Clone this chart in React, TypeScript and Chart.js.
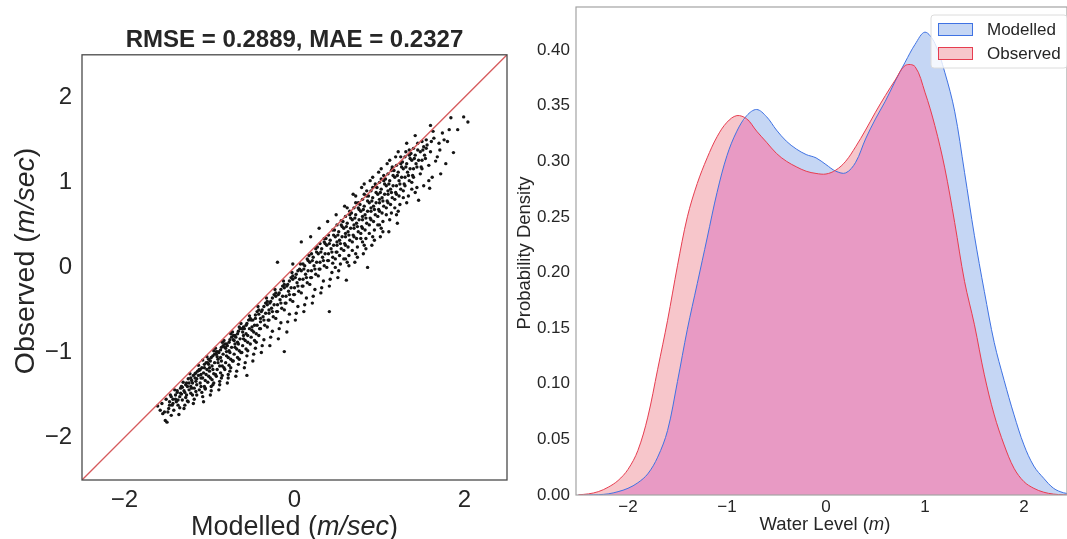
import React, { useEffect, useRef } from "react";
import { Chart, registerables } from "chart.js";

Chart.register(...registerables);

// ---------- Left panel: modelled vs observed scatter ----------
const scatterTitle = "RMSE = 0.2889, MAE = 0.2327";
const scatterTicksX = [-2, 0, 2];
const scatterTicksY = [-2, -1, 0, 1, 2];
const identityEnds = [-2.5, 2.5];
const scatterXLabel: [string, boolean][] = [["Modelled (", false], ["m/sec", true], [")", false]];
const scatterYLabel: [string, boolean][] = [["Observed (", false], ["m/sec", true], [")", false]];

// [modelled, observed] pairs
const samplePairs: [number, number][] = [
  [-1.58, -1.68], [-1.55, -1.72], [-1.61, -1.63], [-1.52, -1.8], [-1.56, -1.6],
  [-1.5, -1.82], [-1.48, -1.66], [-1.47, -1.58], [-1.45, -1.74], [-1.51, -1.55], [-1.44, -1.62], [-1.49, -1.7], [-1.46, -1.5],
  [-1.42, -1.68], [-1.4, -1.55], [-1.38, -1.47], [-1.37, -1.62], [-1.41, -1.44], [-1.36, -1.73], [-1.39, -1.58], [-1.35, -1.52], [-1.43, -1.6], [-1.34, -1.42],
  [-1.32, -1.56], [-1.3, -1.45], [-1.28, -1.38], [-1.29, -1.62], [-1.27, -1.5], [-1.31, -1.35], [-1.26, -1.57], [-1.25, -1.31], [-1.33, -1.49], [-1.24, -1.44], [-1.28, -1.53], [-1.3, -1.66],
  [-1.22, -1.48], [-1.2, -1.36], [-1.19, -1.27], [-1.18, -1.55], [-1.21, -1.42], [-1.17, -1.3], [-1.16, -1.46], [-1.23, -1.25], [-1.15, -1.38], [-1.19, -1.6], [-1.14, -1.22], [-1.2, -1.5], [-1.16, -1.34], [-1.22, -1.4],
  [-1.12, -1.44], [-1.1, -1.3], [-1.09, -1.18], [-1.08, -1.52], [-1.11, -1.36], [-1.07, -1.24], [-1.06, -1.4], [-1.13, -1.15], [-1.05, -1.33], [-1.09, -1.47], [-1.04, -1.12], [-1.1, -1.26], [-1.07, -1.58], [-1.12, -1.21], [-1.05, -1.43], [-1.08, -1.09],
  [-1.02, -1.35], [-1.0, -1.22], [-0.99, -1.1], [-0.98, -1.45], [-1.01, -1.28], [-0.97, -1.16], [-0.96, -1.38], [-1.03, -1.05], [-0.95, -1.25], [-0.99, -1.5], [-0.94, -1.02], [-1.0, -1.18], [-0.97, -1.32], [-1.02, -1.12], [-0.95, -0.98], [-0.98, -1.4],
  [-0.92, -1.28], [-0.9, -1.12], [-0.89, -1.0], [-0.88, -1.38], [-0.91, -1.2], [-0.87, -1.06], [-0.86, -1.3], [-0.93, -0.95], [-0.85, -1.16], [-0.89, -1.44], [-0.84, -0.92], [-0.9, -1.08], [-0.87, -1.24], [-0.92, -1.02], [-0.85, -0.88], [-0.88, -1.34],
  [-0.82, -1.2], [-0.8, -1.04], [-0.79, -0.92], [-0.78, -1.3], [-0.81, -1.12], [-0.77, -0.98], [-0.76, -1.22], [-0.83, -0.86], [-0.75, -1.08], [-0.79, -1.36], [-0.74, -0.82], [-0.8, -0.99], [-0.77, -1.15], [-0.82, -0.94], [-0.75, -0.78], [-0.78, -1.26],
  [-0.72, -1.1], [-0.7, -0.94], [-0.69, -0.82], [-0.68, -1.22], [-0.71, -1.02], [-0.67, -0.88], [-0.66, -1.14], [-0.73, -0.76], [-0.65, -0.98], [-0.69, -1.28], [-0.64, -0.72], [-0.7, -0.9], [-0.67, -1.06], [-0.72, -0.85], [-0.65, -0.7],
  [-0.62, -1.0], [-0.6, -0.84], [-0.59, -0.72], [-0.58, -1.12], [-0.61, -0.92], [-0.57, -0.78], [-0.56, -1.04], [-0.63, -0.66], [-0.55, -0.88], [-0.59, -1.18], [-0.54, -0.62], [-0.6, -0.8], [-0.57, -0.96], [-0.56, -1.27],
  [-0.52, -0.9], [-0.5, -0.74], [-0.49, -0.62], [-0.48, -1.02], [-0.51, -0.82], [-0.47, -0.68], [-0.46, -0.95], [-0.53, -0.57], [-0.45, -0.78], [-0.49, -1.1], [-0.44, -0.52], [-0.5, -0.7], [-0.47, -0.86],
  [-0.42, -0.8], [-0.4, -0.64], [-0.39, -0.52], [-0.38, -0.92], [-0.41, -0.72], [-0.37, -0.58], [-0.36, -0.85], [-0.43, -0.46], [-0.35, -0.68], [-0.39, -1.0], [-0.34, -0.42], [-0.4, -0.6],
  [-0.32, -0.7], [-0.3, -0.54], [-0.29, -0.42], [-0.28, -0.82], [-0.31, -0.62], [-0.27, -0.48], [-0.26, -0.75], [-0.33, -0.36], [-0.25, -0.58], [-0.29, -0.92], [-0.24, -0.32], [-0.3, -0.5],
  [-0.22, -0.6], [-0.2, -0.44], [-0.19, -0.32], [-0.18, -0.72], [-0.21, -0.52], [-0.17, -0.38], [-0.16, -0.65], [-0.23, -0.26], [-0.15, -0.48], [-0.19, -0.84], [-0.14, -0.22], [-0.2, 0.06],
  [-0.12, -0.5], [-0.1, -0.34], [-0.09, -0.22], [-0.08, -0.64], [-0.11, -0.42], [-0.07, -0.28], [-0.06, -0.55], [-0.13, -0.16], [-0.05, -0.38], [-0.09, -0.76], [-0.04, -0.12], [-0.12, -0.99],
  [-0.02, -0.4], [0.0, -0.24], [0.01, -0.12], [0.02, -0.54], [-0.01, -0.32], [0.03, -0.18], [0.04, -0.46], [-0.03, -0.06], [0.05, -0.28], [0.01, -0.62], [0.06, -0.02], [-0.02, 0.04],
  [0.08, -0.3], [0.1, -0.14], [0.11, -0.02], [0.12, -0.44], [0.09, -0.22], [0.13, -0.08], [0.14, -0.36], [0.07, 0.04], [0.15, -0.18], [0.11, -0.52], [0.16, 0.08], [0.08, 0.3],
  [0.18, -0.2], [0.2, -0.04], [0.21, 0.08], [0.22, -0.34], [0.19, -0.12], [0.23, 0.02], [0.24, -0.26], [0.17, 0.14], [0.25, -0.08], [0.21, -0.42], [0.26, 0.18], [0.19, 0.36],
  [0.28, -0.1], [0.3, 0.06], [0.31, 0.18], [0.32, -0.24], [0.29, -0.02], [0.33, 0.12], [0.34, -0.16], [0.27, 0.24], [0.35, 0.02], [0.31, -0.3], [0.36, 0.28], [0.29, 0.46],
  [0.38, 0.0], [0.4, 0.16], [0.41, 0.28], [0.42, -0.14], [0.39, 0.08], [0.43, 0.22], [0.44, -0.06], [0.37, 0.34], [0.45, 0.12], [0.41, -0.22], [0.46, 0.38], [0.39, 0.54], [0.41, -0.52],
  [0.48, 0.1], [0.5, 0.26], [0.51, 0.38], [0.52, -0.04], [0.49, 0.18], [0.53, 0.32], [0.54, 0.04], [0.47, 0.44], [0.55, 0.22], [0.51, -0.12], [0.56, 0.48], [0.49, 0.62], [0.53, 0.14], [0.5, 0.3],
  [0.58, 0.2], [0.6, 0.36], [0.61, 0.48], [0.62, 0.06], [0.59, 0.28], [0.63, 0.42], [0.64, 0.14], [0.57, 0.54], [0.65, 0.32], [0.61, -0.15], [0.66, 0.58], [0.59, 0.72], [0.63, 0.24], [0.6, 0.4], [0.64, 0.02],
  [0.68, 0.3], [0.7, 0.46], [0.71, 0.58], [0.72, 0.16], [0.69, 0.38], [0.73, 0.52], [0.74, 0.24], [0.67, 0.64], [0.75, 0.42], [0.71, 0.06], [0.76, 0.68], [0.69, 0.86], [0.73, 0.34], [0.7, 0.5], [0.74, 0.12], [0.72, 0.76],
  [0.78, 0.4], [0.8, 0.56], [0.81, 0.68], [0.82, 0.26], [0.79, 0.48], [0.83, 0.62], [0.84, 0.34], [0.77, 0.74], [0.85, 0.52], [0.81, 0.16], [0.86, 0.78], [0.79, 0.94], [0.83, 0.44], [0.8, 0.6], [0.84, 0.22], [0.82, 0.86], [0.86, 0.0],
  [0.88, 0.5], [0.9, 0.66], [0.91, 0.78], [0.92, 0.36], [0.89, 0.58], [0.93, 0.72], [0.94, 0.44], [0.87, 0.84], [0.95, 0.62], [0.91, 0.26], [0.96, 0.88], [0.89, 1.02], [0.93, 0.54], [0.9, 0.7], [0.94, 0.32], [0.92, 0.94],
  [0.98, 0.6], [1.0, 0.76], [1.01, 0.88], [1.02, 0.46], [0.99, 0.68], [1.03, 0.82], [1.04, 0.54], [0.97, 0.94], [1.05, 0.72], [1.01, 0.36], [1.06, 0.98], [0.99, 1.12], [1.03, 0.64], [1.0, 0.8], [1.04, 0.42], [1.02, 1.04],
  [1.08, 0.7], [1.1, 0.86], [1.11, 0.98], [1.12, 0.56], [1.09, 0.78], [1.13, 0.92], [1.14, 0.64], [1.07, 1.04], [1.15, 0.82], [1.11, 0.42], [1.16, 1.08], [1.09, 1.22], [1.13, 0.74], [1.1, 0.9], [1.14, 1.14],
  [1.18, 0.8], [1.2, 0.96], [1.21, 1.08], [1.22, 0.66], [1.19, 0.88], [1.23, 1.02], [1.24, 0.74], [1.17, 1.14], [1.25, 0.92], [1.21, 0.52], [1.26, 1.18], [1.19, 1.3], [1.23, 0.84],
  [1.28, 0.9], [1.3, 1.06], [1.31, 1.18], [1.32, 0.76], [1.29, 0.98], [1.33, 1.12], [1.34, 0.84], [1.27, 1.24], [1.35, 1.02], [1.31, 1.36], [1.36, 1.28],
  [1.38, 1.0], [1.4, 1.16], [1.41, 1.28], [1.42, 0.88], [1.39, 1.08], [1.43, 1.22], [1.44, 0.94], [1.37, 1.34], [1.45, 1.46], [1.42, 1.55],
  [1.48, 1.1], [1.5, 1.26], [1.51, 1.38], [1.52, 0.96], [1.49, 1.18], [1.53, 1.32], [1.46, 0.79], [1.55, 1.5],
  [1.58, 1.2], [1.6, 1.36], [1.61, 1.48], [1.62, 1.06], [1.59, 0.93], [1.63, 1.6], [1.6, 1.67],
  [1.68, 1.3], [1.7, 1.46], [1.72, 1.1], [1.74, 1.58], [1.71, 1.38],
  [1.8, 1.48], [1.84, 1.76], [1.87, 1.35], [1.92, 1.62], [1.99, 1.77], [2.04, 1.71], [1.78, 1.22],
  // denser core of the cloud
  [-1.53, -1.7], [-1.47, -1.62], [-1.43, -1.55], [-1.4, -1.5], [-1.37, -1.56], [-1.34, -1.48], [-1.32, -1.41], [-1.29, -1.47], [-1.26, -1.4], [-1.24, -1.36], [-1.21, -1.33], [-1.18, -1.42],
  [-1.17, -1.25], [-1.15, -1.31], [-1.13, -1.27], [-1.11, -1.2], [-1.1, -1.4], [-1.08, -1.3], [-1.06, -1.18], [-1.04, -1.26], [-1.03, -1.2], [-1.01, -1.14],
  [-0.99, -1.3], [-0.98, -1.06], [-0.96, -1.2], [-0.94, -1.12], [-0.93, -1.26], [-0.91, -1.05], [-0.9, -0.99], [-0.88, -1.16], [-0.87, -0.97], [-0.86, -1.1],
  [-0.84, -1.02], [-0.83, -1.18], [-0.81, -0.95], [-0.8, -0.9], [-0.78, -1.06], [-0.77, -0.88], [-0.76, -1.0], [-0.74, -0.94], [-0.73, -1.1], [-0.71, -0.86],
  [-0.7, -0.8], [-0.68, -0.96], [-0.67, -0.78], [-0.66, -0.9], [-0.64, -0.84], [-0.63, -1.0], [-0.61, -0.76], [-0.6, -0.7], [-0.58, -0.86], [-0.57, -0.68],
  [-0.55, -0.8], [-0.53, -0.72], [-0.51, -0.62], [-0.48, -0.76], [-0.46, -0.6], [-0.44, -0.68], [-0.42, -0.55], [-0.4, -0.72], [-0.38, -0.5], [-0.36, -0.62],
  [-0.34, -0.54], [-0.32, -0.44], [-0.3, -0.62], [-0.28, -0.4], [-0.26, -0.52], [-0.24, -0.44], [-0.22, -0.34], [-0.2, -0.52], [-0.18, -0.3], [-0.16, -0.42],
  [-0.14, -0.34], [-0.12, -0.24], [-0.1, -0.42], [-0.08, -0.2], [-0.06, -0.32], [-0.04, -0.24], [-0.02, -0.14], [0.0, -0.32], [0.02, -0.08], [0.04, -0.22],
  [0.06, -0.14], [0.08, -0.04], [0.1, -0.22], [0.12, 0.02], [0.14, -0.12], [0.16, -0.04], [0.18, 0.06], [0.2, -0.12], [0.22, 0.12], [0.24, -0.02],
  [0.26, 0.06], [0.28, 0.16], [0.3, -0.02], [0.32, 0.22], [0.34, 0.08], [0.36, 0.16], [0.38, 0.26], [0.4, 0.08], [0.42, 0.32], [0.44, 0.18],
  [0.46, 0.26], [0.48, 0.36], [0.5, 0.18], [0.52, 0.42], [0.54, 0.28], [0.56, 0.36], [0.58, 0.46], [0.6, 0.26], [0.62, 0.52], [0.64, 0.38],
  [0.66, 0.46], [0.68, 0.56], [0.7, 0.36], [0.72, 0.62], [0.74, 0.48], [0.76, 0.56], [0.78, 0.66], [0.8, 0.46], [0.82, 0.72], [0.84, 0.58],
  [0.86, 0.66], [0.88, 0.76], [0.9, 0.56], [0.92, 0.82], [0.94, 0.68], [0.96, 0.76], [0.98, 0.86], [1.0, 0.66], [1.02, 0.92], [1.04, 0.78],
  [1.06, 0.86], [1.08, 0.96], [1.1, 0.76], [1.12, 1.02], [1.14, 0.88], [1.16, 0.96], [1.18, 1.06], [1.2, 0.86], [1.22, 1.12], [1.24, 0.98],
  [1.26, 1.06], [1.28, 1.16], [1.3, 0.96], [1.32, 1.22], [1.34, 1.08], [1.36, 1.16], [1.38, 1.26], [1.4, 1.06], [1.42, 1.32], [1.44, 1.18],
  [1.46, 1.26], [1.48, 1.36], [1.5, 1.16], [1.52, 1.42], [1.54, 1.28],
  [0.35, 0.3], [0.55, 0.5], [0.75, 0.7], [0.95, 0.95], [1.15, 1.16], [1.35, 1.38], [0.45, 0.05], [0.65, 0.62], [0.85, 0.9], [1.05, 1.08],
  [1.25, 1.3], [0.6, 0.1], [0.8, 0.3], [1.0, 0.5], [1.2, 0.62],
  [1.56, 1.44], [1.64, 1.52], [1.66, 1.25], [1.58, 1.02], [1.76, 1.5], [1.82, 1.62],
  // points close to the 1:1 line
  [-1.45, -1.52], [-1.38, -1.45], [-1.33, -1.4], [-1.27, -1.36], [-1.22, -1.3], [-1.16, -1.24], [-1.12, -1.2], [-1.06, -1.14], [-1.01, -1.08], [-0.96, -1.04],
  [-0.92, -0.99], [-0.86, -0.94], [-0.82, -0.9], [-0.76, -0.85], [-0.72, -0.8], [-0.66, -0.75], [-0.62, -0.72], [-0.56, -0.66], [-0.52, -0.6], [-0.46, -0.56],
  [-0.42, -0.5], [-0.36, -0.46], [-0.32, -0.4], [-0.26, -0.36], [-0.22, -0.3], [-0.16, -0.26], [-0.12, -0.2], [-0.06, -0.16], [-0.02, -0.1], [0.04, -0.04],
  [0.1, 0.04], [0.15, 0.1], [0.2, 0.16], [0.25, 0.22], [0.3, 0.28], [0.35, 0.34], [0.4, 0.38], [0.45, 0.44], [0.5, 0.5], [0.55, 0.55],
  [0.6, 0.6], [0.65, 0.66], [0.7, 0.7], [0.75, 0.76], [0.8, 0.8], [0.85, 0.84], [0.9, 0.9], [0.95, 0.98], [1.0, 1.0], [1.05, 1.02],
  [1.1, 1.1], [1.15, 1.18], [1.2, 1.2], [1.25, 1.22], [1.3, 1.3], [1.35, 1.32], [1.4, 1.4], [1.45, 1.38], [1.5, 1.48], [1.55, 1.4],
  [0.62, 0.7], [0.72, 0.84], [0.82, 0.98], [0.92, 1.06], [1.02, 1.16], [1.12, 1.26], [1.22, 1.36], [1.32, 1.46], [1.08, 0.62], [0.98, 0.5],
  [0.88, 0.4], [0.78, 0.34], [0.68, 0.2], [0.58, 0.1], [0.48, 0.0], [1.18, 0.7], [1.28, 0.82], [1.38, 0.92], [-0.95, -1.36], [-0.85, -1.27],
  [-0.75, -1.18], [-0.65, -1.08], [-0.55, -0.98], [-0.45, -0.88], [-1.05, -1.42], [-1.15, -1.5], [-1.25, -1.58], [-1.35, -1.65],
];

// ---------- Right panel: density curves ----------
const kdeGrid = [
  -2.5, -2.4, -2.3, -2.2, -2.1, -2.0, -1.9, -1.8, -1.7, -1.6, -1.5, -1.4, -1.3, -1.2, -1.1, -1.0, -0.9,
  -0.8, -0.7, -0.6, -0.5, -0.4, -0.3, -0.2, -0.1, 0.0, 0.1, 0.2, 0.3, 0.4, 0.5, 0.6, 0.7, 0.8, 0.9, 1.0,
  1.1, 1.2, 1.3, 1.4, 1.5, 1.6, 1.7, 1.8, 1.9, 2.0, 2.1, 2.2, 2.3, 2.4, 2.5,
];
const modelledDensity = [
  0.0, 0.0001, 0.0003, 0.001, 0.003, 0.006, 0.011, 0.019, 0.034, 0.058, 0.102, 0.149, 0.19, 0.231, 0.272, 0.305, 0.327,
  0.341, 0.3465, 0.34, 0.328, 0.318, 0.311, 0.306, 0.303, 0.297, 0.291, 0.2895, 0.299, 0.32, 0.338, 0.354, 0.372, 0.389, 0.405, 0.416,
  0.406, 0.38, 0.345, 0.29, 0.233, 0.183, 0.137, 0.103, 0.072, 0.045, 0.026, 0.015, 0.006, 0.002, 0.0005,
];
const observedDensity = [
  0.0002, 0.001, 0.003, 0.007, 0.013, 0.023, 0.04, 0.07, 0.113, 0.157, 0.206, 0.25, 0.28, 0.303, 0.322, 0.335, 0.341,
  0.338, 0.327, 0.317, 0.307, 0.3, 0.295, 0.291, 0.289, 0.2885, 0.292, 0.3, 0.313, 0.328, 0.344, 0.359, 0.373, 0.386, 0.385, 0.362,
  0.332, 0.294, 0.245, 0.192, 0.153, 0.108, 0.072, 0.045, 0.024, 0.012, 0.006, 0.0025, 0.0008, 0.0002, 0.0,
];
const kdeTicksX = [-2, -1, 0, 1, 2];
const kdeTicksY = [0, 0.05, 0.1, 0.15, 0.2, 0.25, 0.3, 0.35, 0.4];
const seriesNames = ["Modelled", "Observed"];
const kdeXLabel: [string, boolean][] = [["Water Level (", false], ["m", true], [")", false]];
const kdeYLabel: [string, boolean][] = [["Probability Density", false]];

const FONT = "'Liberation Sans', Arial, Helvetica, sans-serif";
const TEXT = "#262626";
const BLUE_FILL = "#c5d6f4";
const RED_FILL = "#f7c6cb";
const OVERLAP_FILL = "#e89ac4";
const BLUE_LINE = "#3f72e3";
const RED_LINE = "#e63d50";

const minus = (v: number) => (v < 0 ? "\u2212" + String(Math.abs(v)) : String(v));

function drawRich(ctx: CanvasRenderingContext2D, parts: [string, boolean][], size: number, x: number, y: number, rot: number) {
  ctx.save();
  ctx.translate(x, y);
  if (rot) ctx.rotate(rot);
  ctx.fillStyle = TEXT;
  ctx.textBaseline = "alphabetic";
  ctx.textAlign = "left";
  const widths = parts.map(([t, it]) => {
    ctx.font = `${it ? "italic " : ""}${size}px ${FONT}`;
    return ctx.measureText(t).width;
  });
  const total = widths.reduce((a, b) => a + b, 0);
  let cx = -total / 2;
  parts.forEach(([t, it], i) => {
    ctx.font = `${it ? "italic " : ""}${size}px ${FONT}`;
    ctx.fillText(t, cx, 0);
    cx += widths[i];
  });
  ctx.restore();
}

const setTicks = (values: number[]) => (scale: any) => {
  scale.ticks = values.map((v) => ({ value: v }));
};

const fixSize = (prop: "width" | "height", size: number) => (s: any) => {
  s[prop] = size;
  s.paddingTop = 0;
  s.paddingBottom = 0;
  s.paddingLeft = 0;
  s.paddingRight = 0;
};

export default function App() {
  const leftRef = useRef<HTMLCanvasElement>(null);
  const rightRef = useRef<HTMLCanvasElement>(null);

  useEffect(() => {
    const leftPlugin = {
      id: "leftDecor",
      afterDatasetsDraw(chart: any) {
        const { ctx, chartArea: a } = chart;
        ctx.save();
        ctx.strokeStyle = "#4a4a4a";
        ctx.lineWidth = 1.3;
        ctx.strokeRect(a.left, a.top, a.right - a.left, a.bottom - a.top);
        ctx.restore();
      },
      afterDraw(chart: any) {
        const { ctx, chartArea: a } = chart;
        drawRich(ctx, scatterXLabel, 27, (a.left + a.right) / 2, 535, 0);
        drawRich(ctx, scatterYLabel, 28.5, 34, 261, -Math.PI / 2);
      },
    };

    const rightPlugin = {
      id: "rightDecor",
      afterDatasetsDraw(chart: any) {
        const { ctx, chartArea: a } = chart;
        ctx.save();
        ctx.strokeStyle = "#a3a3a3";
        ctx.lineWidth = 1.2;
        ctx.strokeRect(a.left, a.top, a.right - a.left, a.bottom - a.top);
        ctx.restore();
      },
      afterDraw(chart: any) {
        const { ctx } = chart;
        drawRich(ctx, kdeXLabel, 18.5, 315, 530, 0);
        drawRich(ctx, kdeYLabel, 18.5, 20, 253, -Math.PI / 2);
        // legend
        ctx.save();
        const bx = 421, by = 15, bw = 136, bh = 53, r = 3;
        ctx.beginPath();
        ctx.moveTo(bx + r, by);
        ctx.lineTo(bx + bw - r, by);
        ctx.quadraticCurveTo(bx + bw, by, bx + bw, by + r);
        ctx.lineTo(bx + bw, by + bh - r);
        ctx.quadraticCurveTo(bx + bw, by + bh, bx + bw - r, by + bh);
        ctx.lineTo(bx + r, by + bh);
        ctx.quadraticCurveTo(bx, by + bh, bx, by + bh - r);
        ctx.lineTo(bx, by + r);
        ctx.quadraticCurveTo(bx, by, bx + r, by);
        ctx.closePath();
        ctx.fillStyle = "rgba(255,255,255,0.8)";
        ctx.fill();
        ctx.strokeStyle = "#dcdcdc";
        ctx.lineWidth = 1;
        ctx.stroke();
        const fills = [BLUE_FILL, RED_FILL];
        const lines = [BLUE_LINE, RED_LINE];
        seriesNames.forEach((name, i) => {
          const cy = 29.5 + i * 24;
          ctx.fillStyle = fills[i];
          ctx.fillRect(428, cy - 6.5, 35, 13);
          ctx.strokeStyle = lines[i];
          ctx.lineWidth = 1;
          ctx.strokeRect(428.5, cy - 6, 34, 12);
          ctx.fillStyle = TEXT;
          ctx.font = `17px ${FONT}`;
          ctx.textBaseline = "middle";
          ctx.textAlign = "left";
          ctx.fillText(name, 477, cy + 1);
        });
        ctx.restore();
      },
    };

    const left = new Chart(leftRef.current!, {
      type: "scatter",
      data: {
        datasets: [
          {
            type: "line",
            data: identityEnds.map((v) => ({ x: v, y: v })),
            borderColor: "#d65a5c",
            borderWidth: 1.3,
            pointRadius: 0,
            fill: false,
            order: 0,
          } as any,
          {
            type: "scatter",
            data: samplePairs.map(([x, y]) => ({ x, y })),
            backgroundColor: "#151515",
            borderWidth: 0,
            pointRadius: 1.7,
            order: 1,
          },
        ],
      },
      options: {
        responsive: false,
        animation: false,
        events: [],
        layout: { padding: { top: 0, right: 8, left: 0, bottom: 0 } },
        plugins: {
          legend: { display: false },
          tooltip: { enabled: false },
          title: {
            display: true,
            text: scatterTitle,
            fullSize: false,
            color: TEXT,
            font: { family: FONT, size: 24, weight: "bold" },
            padding: { top: 26, bottom: 0 },
          },
        },
        scales: {
          x: {
            type: "linear",
            min: -2.5,
            max: 2.5,
            grid: { display: false, drawTicks: false },
            border: { display: false },
            ticks: { color: TEXT, font: { family: FONT, size: 24 }, padding: 6, callback: (v: any) => minus(Number(v)) },
            afterBuildTicks: setTicks(scatterTicksX),
            afterFit: fixSize("height", 59),
          },
          y: {
            type: "linear",
            min: -2.5,
            max: 2.5,
            grid: { display: false, drawTicks: false },
            border: { display: false },
            ticks: { color: TEXT, font: { family: FONT, size: 24 }, padding: 10, callback: (v: any) => minus(Number(v)) },
            afterBuildTicks: setTicks(scatterTicksY),
            afterFit: fixSize("width", 82),
          },
        },
      } as any,
      plugins: [leftPlugin],
    });

    const pts = (vals: number[]) => kdeGrid.map((x, i) => ({ x, y: vals[i] }));
    const overlap = kdeGrid.map((_, i) => Math.min(modelledDensity[i], observedDensity[i]));
    const common = { pointRadius: 0, tension: 0.35 };

    const right = new Chart(rightRef.current!, {
      type: "line",
      data: {
        datasets: [
          { ...common, label: seriesNames[0], data: pts(modelledDensity), fill: "origin", backgroundColor: BLUE_FILL, borderWidth: 0, borderColor: "rgba(0,0,0,0)", order: 5 },
          { ...common, label: seriesNames[1], data: pts(observedDensity), fill: "origin", backgroundColor: RED_FILL, borderWidth: 0, borderColor: "rgba(0,0,0,0)", order: 4 },
          { ...common, label: "overlap", data: pts(overlap), fill: "origin", backgroundColor: OVERLAP_FILL, borderWidth: 0, borderColor: "rgba(0,0,0,0)", order: 3 },
          { ...common, label: seriesNames[0] + " line", data: pts(modelledDensity), fill: false, borderColor: BLUE_LINE, borderWidth: 1, order: 2 },
          { ...common, label: seriesNames[1] + " line", data: pts(observedDensity), fill: false, borderColor: RED_LINE, borderWidth: 1, order: 1 },
        ] as any,
      },
      options: {
        responsive: false,
        animation: false,
        events: [],
        layout: { padding: { top: 7, right: 0, left: 0, bottom: 0 } },
        plugins: {
          legend: { display: false },
          tooltip: { enabled: false },
          title: { display: false },
        },
        scales: {
          x: {
            type: "linear",
            min: -2.525,
            max: 2.435,
            grid: { display: false, drawTicks: false },
            border: { display: false },
            ticks: { color: TEXT, font: { family: FONT, size: 17 }, padding: 2, callback: (v: any) => minus(Number(v)) },
            afterBuildTicks: setTicks(kdeTicksX),
            afterFit: fixSize("height", 44),
          },
          y: {
            type: "linear",
            min: 0,
            max: 0.4386,
            grid: { display: false, drawTicks: false },
            border: { display: false },
            ticks: { color: TEXT, font: { family: FONT, size: 17 }, padding: 6, callback: (v: any) => Number(v).toFixed(2) },
            afterBuildTicks: setTicks(kdeTicksY),
            afterFit: fixSize("width", 66),
          },
        },
      } as any,
      plugins: [rightPlugin],
    });

    return () => {
      left.destroy();
      right.destroy();
    };
  }, []);

  return (
    <div style={{ position: "fixed", left: 0, top: 0, width: 1067, height: 539, background: "#fff", overflow: "hidden" }}>
      <canvas ref={leftRef} width={515} height={539} style={{ position: "absolute", left: 0, top: 0, width: 515, height: 539 }} />
      <canvas ref={rightRef} width={557} height={539} style={{ position: "absolute", left: 510, top: 0, width: 557, height: 539 }} />
    </div>
  );
}
